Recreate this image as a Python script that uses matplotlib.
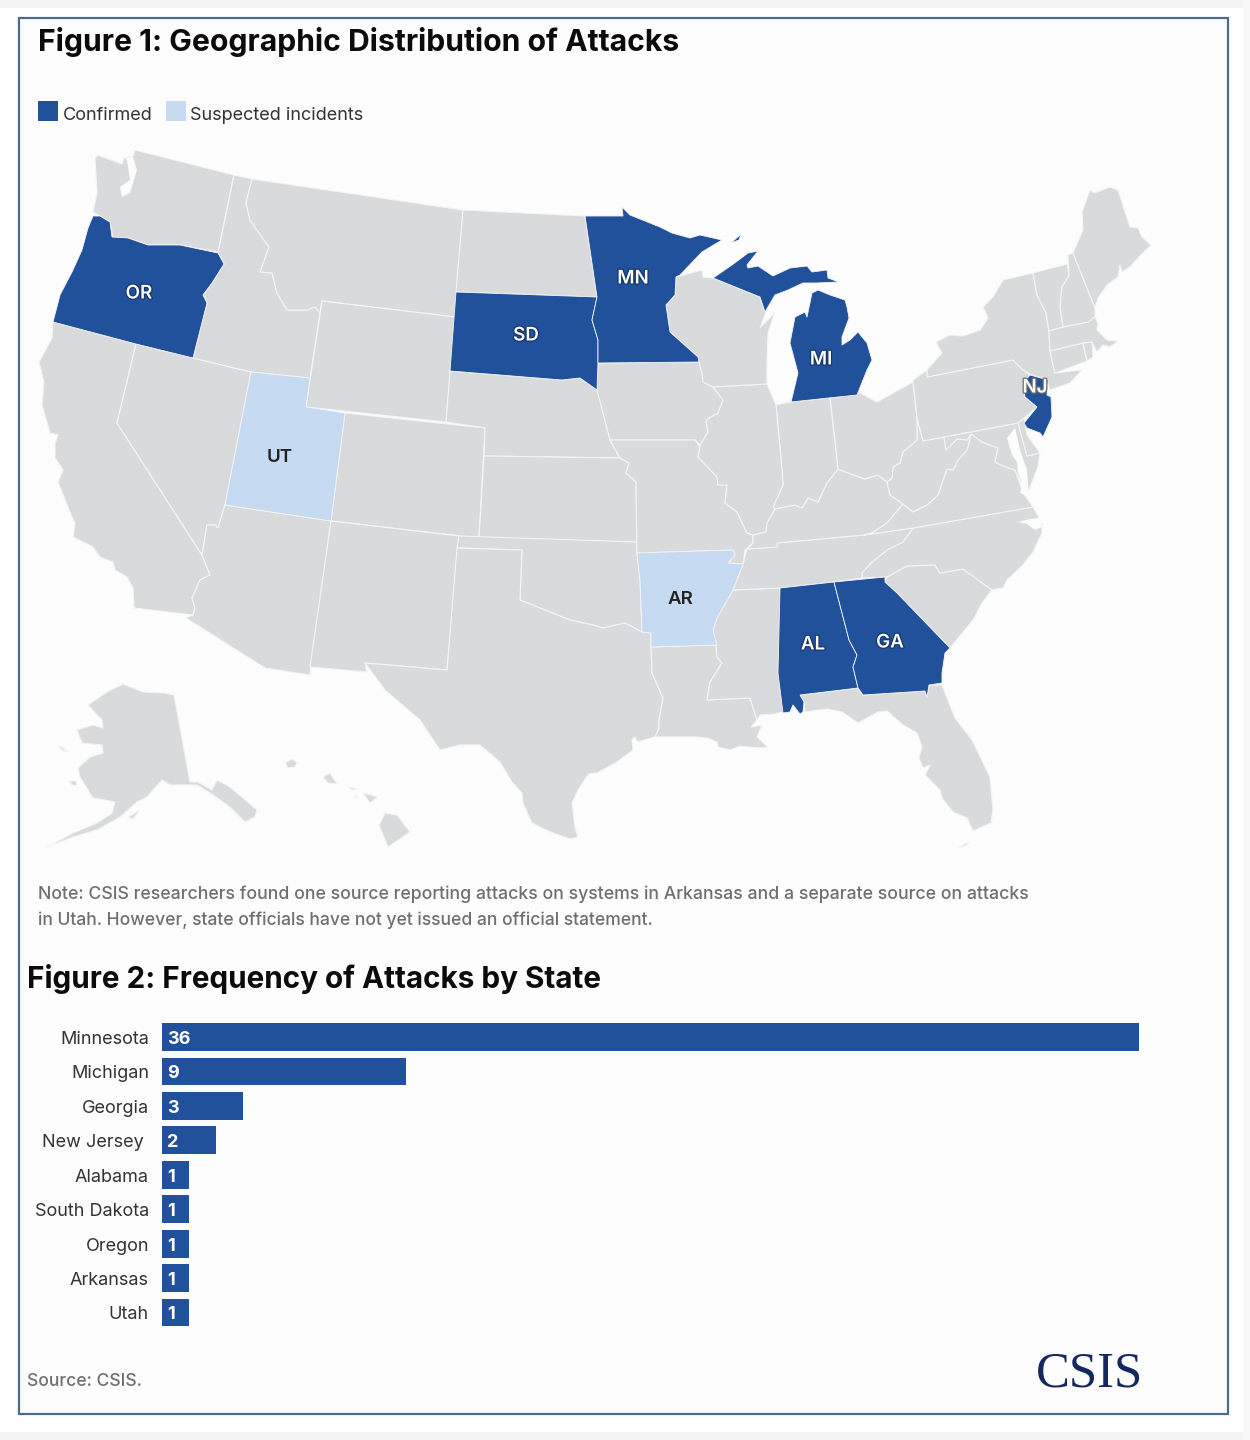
import matplotlib
matplotlib.use("Agg")
import matplotlib.pyplot as plt
from matplotlib.patches import Polygon, Rectangle
import matplotlib.patheffects as pe

# ---------- data ----------
STATES_BAR = ["Minnesota", "Michigan", "Georgia", "New Jersey", "Alabama",
              "South Dakota", "Oregon", "Arkansas", "Utah"]
ATTACKS = [36, 9, 3, 2, 1, 1, 1, 1, 1]
LABEL_OFFSET = [13, 13, 13, 18, 13, 13, 13, 13, 13]

CONFIRMED = ["OR", "SD", "MN", "MI", "MI_UP", "MI_IR", "NJ", "AL", "GA"]
SUSPECTED = ["UT", "AR"]

STATE_LABELS = {"OR": (139, 294), "SD": (526, 336), "MN": (633, 279), "MI": (821, 360),
                "NJ": (1035, 388), "AL": (813, 645), "GA": (890, 643),
                "UT": (280, 457), "AR": (680, 600)}
LABEL_LIGHT = ["OR", "SD", "MN", "MI", "NJ", "AL", "GA"]
LABEL_DARK = ["UT", "AR"]

BLUE = "#21519B"
LIGHT = "#C6DBF1"
GREY = "#D8DADC"
PAGE = "#FDFDFD"
FRAME = "#4A6E85"

# Map outlines (picture coordinates)
SHAPES = {
 "WA": [(135,150),(234,175),(218,252),(180,245),(148,245),(128,238),(113,238),(110,222),(100,216),(93,212),(97,193),(95,158),(98,155),(122,164),(124,158),(133,156)],
 "OR": [(93,216),(100,216),(110,222),(112,237),(128,238),(148,245),(180,245),(218,253),(224,264),(212,283),(203,295),(207,303),(193,358),(136,344),(53,322),(60,295),(72,272),(82,250),(88,228)],
 "CA": [(53,322),(136,344),(117,423),(202,555),(210,575),(200,580),(192,598),(195,608),(193,615),(134,608),(133,588),(127,577),(115,570),(113,562),(100,557),(93,547),(73,537),(75,523),(72,517),(58,482),(63,470),(55,458),(55,443),(58,435),(50,433),(42,405),(44,382),(39,362),(52,338)],
 "NV": [(136,344),(193,358),(251,372),(225,505),(218,528),(215,525),(207,525),(202,555),(117,423)],
 "ID": [(234,175),(252,179),(246,203),(250,220),(269,247),(260,272),(272,273),(277,293),(287,310),(307,310),(315,307),(320,313),(310,378),(251,372),(193,358),(207,303),(203,295),(212,283),(224,264),(218,253)],
 "MT": [(252,179),(463,210),(455,317),(322,301),(320,313),(315,307),(307,310),(287,310),(277,293),(272,273),(260,272),(269,247),(250,220),(246,203)],
 "WY": [(322,301),(455,317),(446,422),(306,407)],
 "UT": [(251,372),(310,378),(306,407),(345,413),(331,521),(225,505)],
 "CO": [(345,413),(485,428),(479,538),(331,521)],
 "AZ": [(225,505),(331,521),(310,675),(265,668),(186,618),(193,615),(195,608),(192,598),(200,580),(210,575),(202,555),(207,525),(215,525),(218,528)],
 "NM": [(331,521),(459,536),(447,670),(365,663),(367,672),(310,667)],
 "ND": [(463,210),(585,216),(597,297),(456,292)],
 "SD": [(456,292),(597,297),(592,320),(598,340),(598,362),(597,390),(580,378),(562,380),(450,371)],
 "NE": [(450,371),(562,380),(580,378),(597,390),(605,412),(610,440),(620,458),(484,456),(485,428),(446,422)],
 "KS": [(484,456),(620,458),(629,463),(626,473),(636,482),(637,542),(479,538)],
 "OK": [(459,536),(637,542),(637,553),(640,580),(642,632),(625,623),(603,628),(593,625),(570,620),(520,600),(522,550),(457,548)],
 "TX": [(457,548),(522,550),(520,600),(570,620),(593,625),(603,628),(625,623),(642,632),(651,633),(651,647),(652,673),(663,698),(659,720),(659,728),(655,737),(637,742),(635,737),(632,740),(633,750),(617,762),(597,773),(589,774),(583,782),(578,790),(572,803),(575,827),(578,837),(570,839),(553,833),(542,828),(532,823),(523,803),(522,793),(512,782),(500,762),(480,745),(460,745),(440,750),(430,735),(420,720),(385,690),(365,663),(447,670)],
 "MN": [(585,216),(623,216),(622,207),(630,215),(660,227),(672,233),(690,238),(700,235),(722,240),(702,252),(680,275),(676,277),(675,295),(666,305),(670,332),(698,357),(699,362),(598,363),(598,340),(592,320),(597,297)],
 "MI_IR": [(731,243),(741,234),(739,240)],
 "IA": [(598,363),(699,362),(702,373),(703,382),(713,387),(723,400),(718,413),(706,420),(708,432),(700,445),(695,440),(610,440),(597,390)],
 "MO": [(610,440),(695,440),(700,447),(698,457),(717,477),(718,485),(727,485),(725,503),(737,512),(747,533),(753,535),(753,543),(745,550),(743,564),(728,563),(735,555),(733,550),(637,553),(636,482),(626,473),(629,463),(620,458)],
 "AR": [(637,553),(733,550),(735,555),(728,563),(743,564),(733,590),(717,618),(713,630),(717,645),(651,647),(651,633),(642,632),(640,580)],
 "LA": [(651,647),(716,645),(717,657),(722,663),(710,682),(707,700),(750,698),(757,720),(751,727),(762,725),(757,737),(768,747),(763,748),(747,747),(740,746),(730,750),(718,747),(717,742),(707,738),(697,737),(677,737),(655,737),(659,728),(659,720),(663,698),(652,673)],
 "MS": [(733,590),(780,588),(783,712),(775,714),(760,715),(757,720),(750,698),(707,700),(710,682),(722,663),(717,657),(716,645),(713,630),(717,618)],
 "AL": [(780,588),(834,582),(849,640),(857,655),(853,667),(858,688),(800,695),(804,702),(803,712),(800,714),(793,705),(790,712),(783,713),(778,673)],
 "GA": [(834,582),(885,577),(885,582),(897,593),(923,620),(950,648),(945,653),(942,673),(942,683),(929,685),(927,697),(925,691),(863,695),(858,688),(853,667),(857,655),(849,640)],
 "FL": [(800,695),(858,688),(863,695),(925,691),(927,697),(929,685),(942,685),(955,718),(972,740),(990,777),(993,810),(991,823),(973,831),(967,818),(953,812),(942,798),(940,790),(925,775),(930,765),(923,768),(919,758),(922,747),(917,733),(903,725),(887,711),(878,712),(858,723),(842,712),(827,709),(805,712),(804,702)],
 "FL_KEYS": [(958,848),(966,843),(970,843),(965,846)],
 "SC": [(887,577),(907,566),(935,565),(940,573),(963,569),(992,590),(982,603),(973,620),(950,648),(923,620),(897,593),(885,582)],
 "NC": [(913,528),(1033,507),(1042,523),(1042,533),(1033,552),(1023,565),(1007,580),(1003,588),(992,590),(963,569),(940,573),(935,565),(907,566),(887,577),(862,578),(862,573),(872,562),(887,550),(903,542)],
 "TN": [(747,549),(777,547),(777,543),(864,535),(913,528),(903,542),(887,550),(872,562),(862,573),(862,578),(834,582),(780,588),(733,590),(743,564)],
 "KY": [(838,469),(848,473),(865,479),(878,475),(887,482),(890,495),(903,504),(887,523),(872,533),(864,535),(777,543),(777,547),(747,549),(753,543),(753,535),(766,532),(767,523),(775,509),(795,505),(802,508),(808,498),(818,502),(827,483)],
 "VA": [(903,504),(913,512),(927,505),(938,495),(943,480),(947,469),(953,470),(958,460),(967,450),(969,443),(971,434),(982,442),(998,448),(995,462),(1003,466),(1015,470),(1023,493),(1033,507),(913,528),(864,535),(872,533),(887,523)],
 "WV": [(917,418),(923,441),(944,437),(946,450),(957,439),(967,440),(971,434),(969,443),(967,450),(958,460),(953,470),(947,469),(943,480),(938,495),(927,505),(913,512),(903,504),(890,495),(887,482),(892,478),(893,467),(900,463),(903,452),(917,440)],
 "MD": [(944,437),(1018,423),(1027,456),(1040,453),(1038,467),(1027,495),(1015,470),(1003,466),(995,462),(998,448),(982,442),(971,434),(967,440),(957,439),(946,450)],
 "DE": [(1018,423),(1024,418),(1027,435),(1040,453),(1027,456)],
 "OH": [(830,398),(860,393),(877,402),(913,382),(917,418),(917,440),(903,452),(900,463),(893,467),(892,478),(887,482),(878,475),(865,479),(848,473),(838,469)],
 "IN": [(776,405),(790,402),(830,398),(838,469),(827,483),(818,502),(808,498),(802,508),(795,505),(775,509),(773,507),(783,485),(782,470)],
 "IL": [(713,387),(767,384),(776,405),(782,470),(783,485),(773,507),(775,509),(767,523),(766,532),(753,535),(747,533),(737,512),(725,503),(727,485),(718,485),(717,477),(698,457),(700,447),(700,445),(708,432),(706,420),(718,413),(723,400)],
 "WI": [(676,277),(702,270),(703,277),(713,278),(760,297),(763,307),(766,312),(760,328),(775,312),(768,333),(767,363),(767,384),(713,387),(703,382),(702,373),(699,362),(698,357),(670,332),(666,305),(675,295)],
 "MI_UP": [(713,278),(732,265),(748,253),(758,251),(747,265),(748,268),(758,266),(773,276),(790,268),(807,266),(812,272),(827,270),(828,278),(839,282),(817,283),(803,283),(788,290),(775,295),(765,312),(760,297)],
 "MI": [(791,402),(798,373),(790,343),(795,317),(805,312),(807,317),(812,293),(818,290),(830,295),(845,300),(847,307),(849,318),(842,337),(842,345),(850,340),(858,332),(867,343),(872,360),(867,370),(857,395)],
 "PA": [(913,380),(927,370),(927,377),(1013,360),(1023,370),(1030,375),(1023,383),(1025,397),(1037,407),(1024,418),(1018,423),(923,441),(917,418)],
 "NY": [(927,370),(942,353),(936,342),(950,335),(963,336),(980,330),(988,318),(983,307),(993,297),(1003,280),(1033,273),(1037,295),(1046,313),(1049,331),(1050,351),(1055,373),(1082,370),(1070,383),(1050,390),(1047,380),(1030,374),(1023,370),(1013,360),(927,377)],
 "NJ": [(1030,375),(1048,380),(1047,395),(1051,397),(1052,417),(1043,437),(1040,433),(1027,428),(1024,423),(1037,407),(1025,397),(1023,383)],
 "CT": [(1050,351),(1083,343),(1087,361),(1055,373),(1053,365)],
 "RI": [(1083,343),(1092,342),(1093,357),(1087,361)],
 "MA": [(1049,331),(1063,327),(1088,322),(1095,317),(1098,323),(1097,330),(1107,340),(1118,341),(1110,347),(1103,345),(1097,352),(1092,342),(1083,343),(1050,351)],
 "VT": [(1033,273),(1067,264),(1069,275),(1062,287),(1060,307),(1063,327),(1049,331),(1046,313),(1037,295)],
 "NH": [(1068,255),(1073,253),(1095,308),(1095,317),(1088,322),(1063,327),(1060,307),(1062,287),(1069,275)],
 "ME": [(1073,253),(1083,230),(1082,212),(1090,190),(1094,193),(1110,187),(1118,190),(1130,227),(1138,228),(1142,237),(1151,245),(1138,258),(1130,267),(1122,272),(1120,265),(1118,277),(1107,285),(1098,298),(1095,308)],
 "AK": [(123,684),(143,692),(165,693),(174,695),(190,782),(198,782),(212,790),(217,780),(230,787),(257,810),(255,817),(245,822),(230,807),(213,795),(197,785),(170,785),(162,780),(147,797),(137,802),(120,817),(97,830),(73,837),(47,847),(60,840),(73,833),(97,823),(112,813),(115,802),(93,798),(80,777),(78,768),(90,757),(103,753),(102,745),(82,743),(77,730),(93,725),(103,728),(102,720),(88,705),(107,692)],
 "AK_KOD": [(128,817),(140,810),(133,819)],
 "AK_STL": [(58,746),(62,747),(68,752),(62,750)],
 "AK_NUN": [(69,781),(76,781),(77,786),(72,785)],
 "HI_BIG": [(385,813),(397,815),(410,832),(388,847),(379,825)],
 "HI_MAU": [(363,793),(378,797),(370,803)],
 "HI_MOL": [(348,787),(358,789),(352,790)],
 "HI_OAH": [(323,777),(330,773),(337,784),(328,783)],
 "HI_KAU": [(285,763),(292,759),(297,762),(295,767),(288,768)],
 "HI_LAN": [(354,795),(358,797),(356,798)],
}
# Water cut into the land
WATER = {
 "PUGET": [(125,158),(133,157),(137,170),(130,193),(122,197),(120,187),(130,180),(127,160)],
 "CHESAPEAKE": [(1015,428),(1007,438),(1012,455),(1017,462),(1018,472),(1022,485),(1020,493),(1030,497),(1028,485),(1027,470),(1020,450),(1018,440)],
 "PAMLICO": [(1018,522),(1030,519),(1040,518),(1042,527),(1035,530),(1027,524)],
}

# ---------- page ----------
fig = plt.figure(figsize=(12.5, 14.4), dpi=100, facecolor="white")
bg = fig.add_axes([0, 0, 1, 1])
bg.set_xlim(0, 1250)
bg.set_ylim(1440, 0)
bg.axis("off")

bg.add_patch(Rectangle((0, 0), 1250, 8, fc="#F4F4F4", ec="none"))
bg.add_patch(Rectangle((0, 1432), 1250, 8, fc="#F4F4F4", ec="none"))
bg.add_patch(Rectangle((1243, 0), 7, 1440, fc="#F8F8F8", ec="none"))
bg.add_patch(Rectangle((18.5, 17.5), 1209.5, 1396.5, fc=PAGE, ec=FRAME, lw=1.6))

for key, pts in SHAPES.items():
    if key in CONFIRMED or key in SUSPECTED:
        continue
    bg.add_patch(Polygon(pts, closed=True, fc=GREY, ec="#F4F5F6", lw=0.8, joinstyle="round", zorder=2))
# highlighted states sit on top of the grey ones
for key in SUSPECTED + CONFIRMED:
    col = BLUE if key in CONFIRMED else LIGHT
    bg.add_patch(Polygon(SHAPES[key], closed=True, fc=col, ec="#F4F5F6", lw=0.6, joinstyle="round", zorder=3))
for pts in WATER.values():
    bg.add_patch(Polygon(pts, closed=True, fc=PAGE, ec="none", zorder=4))

FONT = "Inter"
for key in LABEL_LIGHT + LABEL_DARK:
    x, y = STATE_LABELS[key]
    light = key in LABEL_LIGHT
    halo = "#6E6E6E" if key == "NJ" else "#17376B"
    bg.text(x, y, key, ha="center", va="center", family=FONT, weight="semibold", fontsize=13.5,
            color="white" if light else "#222222", zorder=6,
            path_effects=[pe.withStroke(linewidth=1.8, foreground=halo)] if light else None)

# ---------- text ----------
bg.text(38, 42, "Figure 1: Geographic Distribution of Attacks", family=FONT, weight="bold",
        fontsize=21.7, color="#0B0B0B", va="center", ha="left")
bg.text(27, 979, "Figure 2: Frequency of Attacks by State", family=FONT, weight="bold",
        fontsize=21.4, color="#0B0B0B", va="center", ha="left")

bg.add_patch(Rectangle((38, 101), 20, 20, fc=BLUE, ec="none"))
bg.text(63, 115, "Confirmed", family=FONT, fontsize=13, color="#333333", va="center")
bg.add_patch(Rectangle((166, 101), 20, 20, fc=LIGHT, ec="none"))
bg.text(190, 115, "Suspected incidents", family=FONT, fontsize=13, color="#333333", va="center")

NOTE_1 = "Note: CSIS researchers found one source reporting attacks on systems in Arkansas and a separate source on attacks"
NOTE_2 = "in Utah. However, state officials have not yet issued an official statement."
bg.text(38, 894, NOTE_1, family=FONT, weight="medium", fontsize=12.72, color="#6F6F6F", va="center")
bg.text(38, 920, NOTE_2, family=FONT, weight="medium", fontsize=12.6, color="#6F6F6F", va="center")
bg.text(27, 1381, "Source: CSIS.", family=FONT, weight="medium", fontsize=12.6, color="#6F6F6F", va="center")
bg.text(1090, 1374, "CSIS", family="Liberation Serif", fontsize=36.5, color="#14275F", va="center", ha="center")

# ---------- bars ----------
W, H = 1250, 1440
left, right, top, bottom = 162, 1139, 1019.8, 1329.7
ax = fig.add_axes([left / W, 1 - bottom / H, (right - left) / W, (bottom - top) / H])
ax.patch.set_alpha(0)
ypos = list(range(len(STATES_BAR)))
ax.barh(ypos, ATTACKS, height=0.81, color=BLUE)
ax.set_xlim(0, 36)
ax.set_ylim(len(STATES_BAR) - 0.5, -0.5)
ax.set_xticks([])
ax.set_yticks([])
for s in ax.spines.values():
    s.set_visible(False)
for y, name, val, off in zip(ypos, STATES_BAR, ATTACKS, LABEL_OFFSET):
    ax.annotate(name, (0, y), xytext=(-off * 0.72, -1.8), textcoords="offset points",
                ha="right", va="center", family=FONT, fontsize=13, color="#333333")
    ax.annotate(str(val), (0, y), xytext=(3.6, -1.8), textcoords="offset points",
                ha="left", va="center", family=FONT, weight="bold", fontsize=13, color="white")

fig.savefig("out.png", dpi=100, facecolor="white")
